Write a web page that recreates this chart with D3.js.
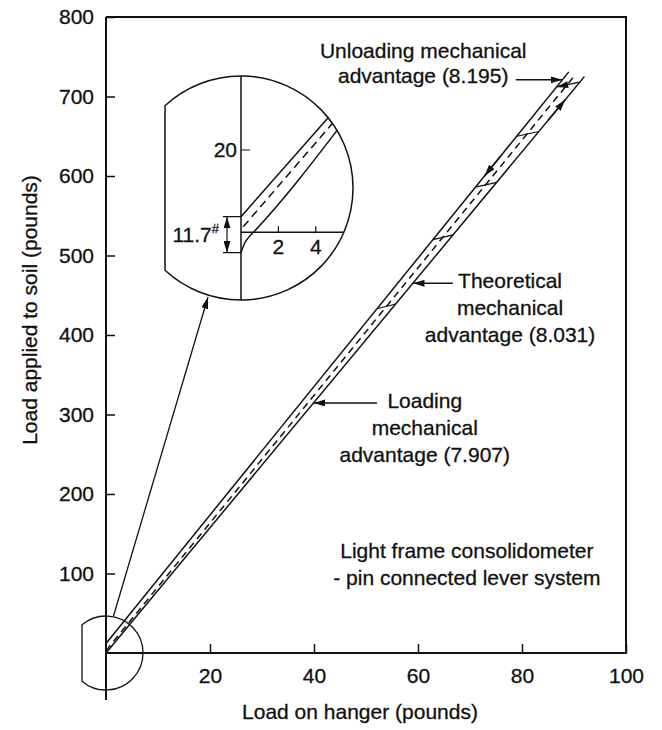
<!DOCTYPE html>
<html>
<head>
<meta charset="utf-8">
<script src="https://cdn.jsdelivr.net/npm/d3@7"></script>
<style>
  body { margin: 0; background: #fff; }
  text { font-family: "Liberation Sans", Arial, sans-serif; fill: #111; stroke: #111; stroke-width: 0.3px; }
</style>
</head>
<body>
<svg id="chart" width="662" height="730"></svg>
<script>
// values
var xTicks = [20, 40, 60, 80, 100];
var yTicks = [100, 200, 300, 400, 500, 600, 700, 800];
var unloading = [[0, 12], [89, 731]];
var loading = [[0, 0], [92, 725]];
var theoretical = [[0, 3], [90.2, 727]];
var stepLevels = [433, 520, 586, 650, 712];

// enlarged view of the origin (its own units)
var insetUnloading = [[0, 3.8], [5.6, 32.7]];
var insetLoading = [[0, -4.96], [0.2, -2.6], [0.45, -1.0], [0.66, 0], [5.6, 27.5]];
var insetTheoretical = [[0.12, 1.36], [5.6, 30.2]];
var insetXTicks = [2, 4];
var insetYTicks = [20];
var insetGap = [-4.96, 3.8];

var fs = 21;
var svg = d3.select("#chart");
var x = d3.scaleLinear().domain([0, 100]).range([106, 626]);
var y = d3.scaleLinear().domain([0, 800]).range([653, 17]);

var defs = svg.append("defs");
defs.append("marker")
  .attr("id", "arr")
  .attr("viewBox", "0 0 10 6")
  .attr("refX", 10).attr("refY", 3)
  .attr("markerWidth", 12).attr("markerHeight", 7)
  .attr("markerUnits", "userSpaceOnUse")
  .attr("orient", "auto-start-reverse")
  .append("path").attr("d", "M0,0L10,3L0,6Z").attr("fill", "#111");

//x position of a line at a given load on soil
function xAt(line, v) {
  for (var i = 1; i < line.length; i++) {
    var a = line[i - 1], b = line[i];
    if (v <= b[1] || i == line.length - 1) {
      return a[0] + (b[0] - a[0]) * (v - a[1]) / (b[1] - a[1]);
    }
  }
}

/*
 * Axes and frame
 */
svg.append("path")
  .attr("d", "M" + x(0) + "," + y(800) + "H" + x(100) + "V" + y(0) + "H" + x(0))
  .attr("fill", "none").attr("stroke", "#111").attr("stroke-width", 2);
svg.append("line")
  .attr("x1", x(0)).attr("x2", x(0)).attr("y1", y(800)).attr("y2", 700)
  .attr("stroke", "#111").attr("stroke-width", 2);

var yAxis = svg.append("g")
  .attr("transform", "translate(" + x(0) + ",0)")
  .call(d3.axisLeft(y).tickValues(yTicks).tickSize(-9).tickPadding(12));
var xAxis = svg.append("g")
  .attr("transform", "translate(0," + y(0) + ")")
  .call(d3.axisBottom(x).tickValues(xTicks).tickSize(-9).tickPadding(15));
[xAxis, yAxis].forEach(function(g) {
  g.select(".domain").remove();
  g.selectAll("line").attr("stroke", "#111").attr("stroke-width", 1.5);
  g.selectAll("text").attr("font-size", fs).attr("fill", "#111")
    .attr("font-family", '"Liberation Sans", Arial, sans-serif');
});

svg.append("text")
  .attr("x", 360).attr("y", 719)
  .attr("text-anchor", "middle").attr("font-size", fs)
  .text("Load on hanger (pounds)");
svg.append("text")
  .attr("transform", "translate(37,310) rotate(-90)")
  .attr("text-anchor", "middle").attr("font-size", fs)
  .text("Load applied to soil (pounds)");

/*
 * Lines
 */
var line = d3.line()
  .x(function(d) { return x(d[0]); })
  .y(function(d) { return y(d[1]); });

svg.append("path").datum(unloading).attr("d", line)
  .attr("fill", "none").attr("stroke", "#111").attr("stroke-width", 1.5);
svg.append("path").datum(loading).attr("d", line)
  .attr("fill", "none").attr("stroke", "#111").attr("stroke-width", 1.5);
svg.append("path").datum(theoretical).attr("d", line)
  .attr("fill", "none").attr("stroke", "#111").attr("stroke-width", 1.5)
  .attr("stroke-dasharray", "7,5");

//steps across the band
stepLevels.forEach(function(v, i) {
  var last = i == stepLevels.length - 1;
  svg.append("line")
    .attr("x1", x(xAt(loading, v + 6))).attr("y1", y(v + 6))
    .attr("x2", x(xAt(unloading, v))).attr("y2", y(v))
    .attr("stroke", "#111").attr("stroke-width", 1.2)
    .attr("marker-end", last ? "url(#arr)" : null);
});

//direction of travel
function dirArrow(ln, v0, v1) {
  svg.append("line")
    .attr("x1", x(xAt(ln, v0))).attr("y1", y(v0))
    .attr("x2", x(xAt(ln, v1))).attr("y2", y(v1))
    .attr("stroke", "#111").attr("stroke-width", 1.5)
    .attr("marker-end", "url(#arr)");
}
dirArrow(loading, 670, 696);
dirArrow(unloading, 625, 600);

/*
 * Annotations
 */
var notes = [
  { lines: ["Unloading mechanical", "advantage (8.195)"], x: 61, y: [748, 717],
    arrow: { ln: unloading, v: 721, from: 78.8 } },
  { lines: ["Theoretical", "mechanical", "advantage (8.031)"], x: 77.7, y: [459, 425, 391],
    arrow: { ln: loading, v: 465, from: 66.7 } },
  { lines: ["Loading", "mechanical", "advantage (7.907)"], x: 61.3, y: [308, 274, 240],
    arrow: { ln: loading, v: 314.5, from: 52.1 } },
  { lines: ["Light frame consolidometer", "- pin connected lever system"], x: 69.4, y: [120, 86] }
];
notes.forEach(function(n) {
  n.lines.forEach(function(t, i) {
    svg.append("text")
      .attr("x", x(n.x)).attr("y", y(n.y[i]))
      .attr("text-anchor", "middle").attr("font-size", fs)
      .text(t);
  });
  if (n.arrow) {
    svg.append("line")
      .attr("x1", x(n.arrow.from)).attr("y1", y(n.arrow.v))
      .attr("x2", x(xAt(n.arrow.ln, n.arrow.v))).attr("y2", y(n.arrow.v))
      .attr("stroke", "#111").attr("stroke-width", 1.5)
      .attr("marker-end", "url(#arr)");
  }
});

/*
 * Magnifier circles
 */
function lens(cx, cy, r, cut) {
  var dy = Math.sqrt(r * r - cut * cut);
  return "M" + (cx - cut) + "," + (cy - dy) +
    "A" + r + "," + r + " 0 1 1 " + (cx - cut) + "," + (cy + dy) + "Z";
}
var sc = { cx: x(0), cy: y(0), r: 37 };
var bc = { cx: 241, cy: 188, r: 112 };

svg.append("path").attr("d", lens(sc.cx, sc.cy, sc.r, 24))
  .attr("fill", "none").attr("stroke", "#111").attr("stroke-width", 1.3);
svg.append("line")
  .attr("x1", 113.5).attr("y1", 616).attr("x2", 208).attr("y2", 297)
  .attr("stroke", "#111").attr("stroke-width", 1.3)
  .attr("marker-end", "url(#arr)");

var lensPath = lens(bc.cx, bc.cy, bc.r, 76);
defs.append("clipPath").attr("id", "lensClip")
  .append("path").attr("d", lensPath);
svg.append("path").attr("d", lensPath).attr("fill", "#fff");

var ix = d3.scaleLinear().domain([0, 4]).range([bc.cx, bc.cx + 74.8]);
var iy = d3.scaleLinear().domain([0, 20]).range([232.3, 150]);
var inset = svg.append("g").attr("clip-path", "url(#lensClip)");
var iline = d3.line()
  .x(function(d) { return ix(d[0]); })
  .y(function(d) { return iy(d[1]); })
  .curve(d3.curveMonotoneX);

inset.append("line")
  .attr("x1", ix(0)).attr("x2", ix(0)).attr("y1", 0).attr("y2", 400)
  .attr("stroke", "#111").attr("stroke-width", 1.5);
inset.append("line")
  .attr("x1", ix(0)).attr("x2", 400).attr("y1", iy(0)).attr("y2", iy(0))
  .attr("stroke", "#111").attr("stroke-width", 1.5);
insetXTicks.forEach(function(t) {
  inset.append("line")
    .attr("x1", ix(t)).attr("x2", ix(t)).attr("y1", iy(0)).attr("y2", iy(0) - 6)
    .attr("stroke", "#111").attr("stroke-width", 1.2);
  inset.append("text")
    .attr("x", ix(t)).attr("y", iy(0) + 22)
    .attr("text-anchor", "middle").attr("font-size", fs)
    .text(t);
});
insetYTicks.forEach(function(t) {
  inset.append("line")
    .attr("x1", ix(0)).attr("x2", ix(0) + 9).attr("y1", iy(t)).attr("y2", iy(t))
    .attr("stroke", "#111").attr("stroke-width", 1.2);
  inset.append("text")
    .attr("x", ix(0) - 4).attr("y", iy(t) + 7)
    .attr("text-anchor", "end").attr("font-size", fs)
    .text(t);
});
inset.append("path").datum(insetUnloading).attr("d", iline)
  .attr("fill", "none").attr("stroke", "#111").attr("stroke-width", 1.5);
inset.append("path").datum(insetLoading).attr("d", iline)
  .attr("fill", "none").attr("stroke", "#111").attr("stroke-width", 1.5);
inset.append("path").datum(insetTheoretical).attr("d", iline)
  .attr("fill", "none").attr("stroke", "#111").attr("stroke-width", 1.5)
  .attr("stroke-dasharray", "8,5");

//11.7# offset between the two curves
insetGap.forEach(function(v) {
  inset.append("line")
    .attr("x1", ix(0) - 18).attr("x2", ix(0)).attr("y1", iy(v)).attr("y2", iy(v))
    .attr("stroke", "#111").attr("stroke-width", 1.2);
});
inset.append("line")
  .attr("x1", ix(0) - 14).attr("x2", ix(0) - 14)
  .attr("y1", iy(insetGap[0])).attr("y2", iy(insetGap[1]))
  .attr("stroke", "#111").attr("stroke-width", 1.2)
  .attr("marker-start", "url(#arr)").attr("marker-end", "url(#arr)");
var gapText = inset.append("text")
  .attr("x", ix(0) - 22).attr("y", iy((insetGap[0] + insetGap[1]) / 2) + 7)
  .attr("text-anchor", "end").attr("font-size", fs);
gapText.append("tspan").text("11.7");
gapText.append("tspan").attr("font-size", 13).attr("dy", -9).text("#");

svg.append("path").attr("d", lensPath)
  .attr("fill", "none").attr("stroke", "#111").attr("stroke-width", 1.5);
</script>
</body>
</html>
